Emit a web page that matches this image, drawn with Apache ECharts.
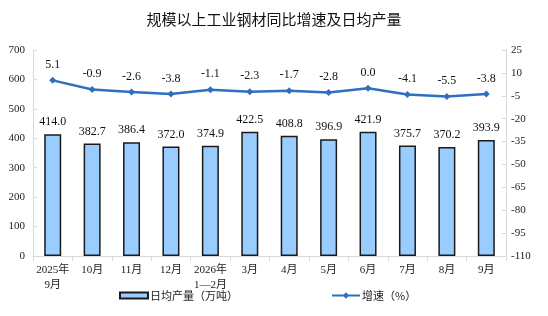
<!DOCTYPE html>
<html>
<head>
<meta charset="utf-8">
<script src="https://cdn.jsdelivr.net/npm/echarts@6/dist/echarts.min.js"></script>
<style>
  html, body { margin: 0; padding: 0; background: #fff; }
  #chart { width: 548px; height: 316px; }
</style>
</head>
<body>
<div id="chart"></div>
<script>
// 月份
const categories = ['2025年\n9月', '10月', '11月', '12月', '2026年\n1—2月', '3月', '4月', '5月', '6月', '7月', '8月', '9月']
// 日均产量（万吨）
const output = [414.0, 382.7, 386.4, 372.0, 374.9, 422.5, 408.8, 396.9, 421.9, 375.7, 370.2, 393.9]
// 增速（%）
const growth = [5.1, -0.9, -2.6, -3.8, -1.1, -2.3, -1.7, -2.8, 0.0, -4.1, -5.5, -3.8]

const serif = '"Liberation Serif", "Times New Roman", "Noto Sans CJK SC", serif'
const cjk = '"Noto Sans CJK SC", sans-serif'

const myChart = echarts.init(document.getElementById('chart'))

myChart.setOption({
  animation: false,
  title: {
    text: '规模以上工业钢材同比增速及日均产量',
    left: 'center',
    top: 7,
    textStyle: {
      fontFamily: cjk,
      fontSize: 15,
      fontWeight: 'normal',
      color: '#111'
    }
  },
  legend: [
    {
      data: [{ name: '日均产量（万吨）', icon: 'rect' }],
      left: 114,
      top: 285,
      itemWidth: 28,
      itemHeight: 6,
      itemGap: 2,
      textStyle: { fontFamily: cjk, fontSize: 11, color: '#222', padding: [0, 0, 0, -3] }
    },
    {
      data: ['增速（%）'],
      left: 326,
      top: 285,
      itemWidth: 28,
      itemHeight: 8,
      textStyle: { fontFamily: cjk, fontSize: 11, color: '#222', padding: [0, 0, 0, -3] }
    }
  ],
  grid: {
    left: 33,
    right: 42,
    top: 50,
    bottom: 60
  },
  xAxis: {
    type: 'category',
    data: categories,
    axisLine: { lineStyle: { color: '#d9d9d9' } },
    axisTick: { show: true, alignWithLabel: false, lineStyle: { color: '#d9d9d9' } },
    axisLabel: {
      color: '#222',
      fontFamily: serif,
      fontSize: 11,
      lineHeight: 15,
      margin: 7,
      interval: 0
    }
  },
  yAxis: [
    {
      type: 'value',
      min: 0,
      max: 700,
      interval: 100,
      splitLine: { show: false },
      axisLine: { show: true, lineStyle: { color: '#d9d9d9' } },
      axisTick: { show: true, inside: true, length: 4, lineStyle: { color: '#d9d9d9' } },
      axisLabel: { color: '#222', fontFamily: serif, fontSize: 11, margin: 8 }
    },
    {
      type: 'value',
      min: -110,
      max: 25,
      interval: 15,
      splitLine: { show: false },
      axisLine: { show: true, lineStyle: { color: '#d9d9d9' } },
      axisTick: { show: true, inside: true, length: 4, lineStyle: { color: '#d9d9d9' } },
      axisLabel: { color: '#222', fontFamily: serif, fontSize: 11, margin: 5 }
    }
  ],
  series: [
    {
      name: '日均产量（万吨）',
      type: 'bar',
      barWidth: 17,
      data: output,
      itemStyle: {
        color: '#99ccff',
        borderColor: '#1a1a1a',
        borderWidth: 1.5
      },
      label: {
        show: true,
        position: 'top',
        distance: 6,
        color: '#111',
        fontFamily: serif,
        fontSize: 12,
        formatter: p => p.value.toFixed(1)
      }
    },
    {
      name: '增速（%）',
      type: 'line',
      yAxisIndex: 1,
      data: growth,
      symbol: 'diamond',
      symbolSize: 7,
      lineStyle: { color: '#2e6fc0', width: 2.5 },
      itemStyle: { color: '#2e6fc0' },
      label: {
        show: true,
        position: 'top',
        distance: 6,
        color: '#111',
        fontFamily: serif,
        fontSize: 12,
        formatter: p => p.value.toFixed(1)
      }
    }
  ]
})
</script>
</body>
</html>
